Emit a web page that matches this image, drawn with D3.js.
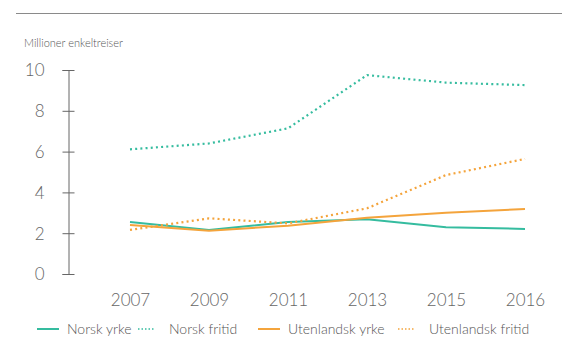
<!DOCTYPE html>
<html lang="no">
<head>
<meta charset="utf-8">
<title>Millioner enkeltreiser</title>
<script src="https://d3js.org/d3.v7.min.js"></script>
<style>
  body { margin: 0; background: #fff; }
  svg text { font-family: Lato, "Open Sans", sans-serif; font-weight: 300; fill: #555; }
</style>
</head>
<body>
<div id="chart"></div>
<script>
// data
var years = ["2007", "2009", "2011", "2013", "2015", "2016"];
var norskYrke = [2.55, 2.16, 2.55, 2.68, 2.29, 2.21];
var norskFritid = [6.11, 6.4, 7.14, 9.75, 9.38, 9.26];
var utlYrke = [2.4, 2.12, 2.37, 2.76, 3.0, 3.19];
var utlFritid = [2.16, 2.73, 2.48, 3.22, 4.85, 5.64];
var yTicks = [0, 2, 4, 6, 8, 10];

var teal = "#35bc9f", orange = "#f4a43c";
var series = [
  { name: "Norsk yrke", values: norskYrke, color: teal, dotted: false },
  { name: "Norsk fritid", values: norskFritid, color: teal, dotted: true },
  { name: "Utenlandsk yrke", values: utlYrke, color: orange, dotted: false },
  { name: "Utenlandsk fritid", values: utlFritid, color: orange, dotted: true }
];

var width = 576, height = 359;
var svg = d3.select("#chart").append("svg")
  .attr("width", width).attr("height", height);

// rule at the top
svg.append("line")
  .attr("x1", 16).attr("x2", 562).attr("y1", 13.5).attr("y2", 13.5)
  .attr("stroke", "#8a8a8a").attr("stroke-width", 1);

svg.append("text")
  .attr("x", 24).attr("y", 47)
  .style("font-size", "11px")
  .text("Millioner enkeltreiser");

var x = d3.scalePoint().domain(years).range([130, 525]);
var y = d3.scaleLinear().domain([0, 10]).range([274, 70]);

// y axis
var yAxis = svg.append("g")
  .attr("transform", "translate(68.5,0)")
  .call(d3.axisLeft(y).tickValues(yTicks).tickSize(6).tickFormat(d3.format("d")));
yAxis.select(".domain").attr("stroke", "#666");
yAxis.selectAll(".tick line").attr("stroke", "#666").attr("x2", 6).attr("x1", -6);
yAxis.selectAll(".tick text")
  .attr("x", -24).attr("dy", "0.35em")
  .style("font-size", "17px").style("fill", "#666");

// x labels
var xAxis = svg.append("g")
  .attr("transform", "translate(0,284)")
  .call(d3.axisBottom(x).tickSize(0));
xAxis.select(".domain").remove();
xAxis.selectAll(".tick text")
  .attr("y", 10)
  .style("font-size", "17px").style("fill", "#666");

var line = d3.line()
  .x(function(d, i) { return x(years[i]); })
  .y(function(d) { return y(d); });

svg.selectAll(".series")
  .data(series)
  .enter()
  .append("path")
  .attr("class", "series")
  .attr("d", function(d) { return line(d.values); })
  .attr("fill", "none")
  .attr("stroke", function(d) { return d.color; })
  .attr("stroke-width", function(d) { return d.dotted ? 2.2 : 2; })
  .attr("stroke-dasharray", function(d) { return d.dotted ? "2,3.2" : null; });

// legend
var legendX = [37, 138, 258, 398];
var leg = svg.selectAll(".leg")
  .data(series)
  .enter()
  .append("g")
  .attr("class", "leg")
  .attr("transform", function(d, i) { return "translate(" + legendX[i] + ",329)"; });
leg.append("line")
  .attr("x1", 0).attr("x2", function(d) { return d.dotted ? 17 : 22; })
  .attr("stroke", function(d) { return d.color; })
  .attr("stroke-width", function(d) { return d.dotted ? 1.5 : 2; })
  .attr("stroke-dasharray", function(d) { return d.dotted ? "1.5,2" : null; });
leg.append("text")
  .attr("x", function(d) { return d.dotted ? 31 : 30; })
  .attr("dy", "0.35em")
  .style("font-size", "14px")
  .text(function(d) { return d.name; });
</script>
</body>
</html>
